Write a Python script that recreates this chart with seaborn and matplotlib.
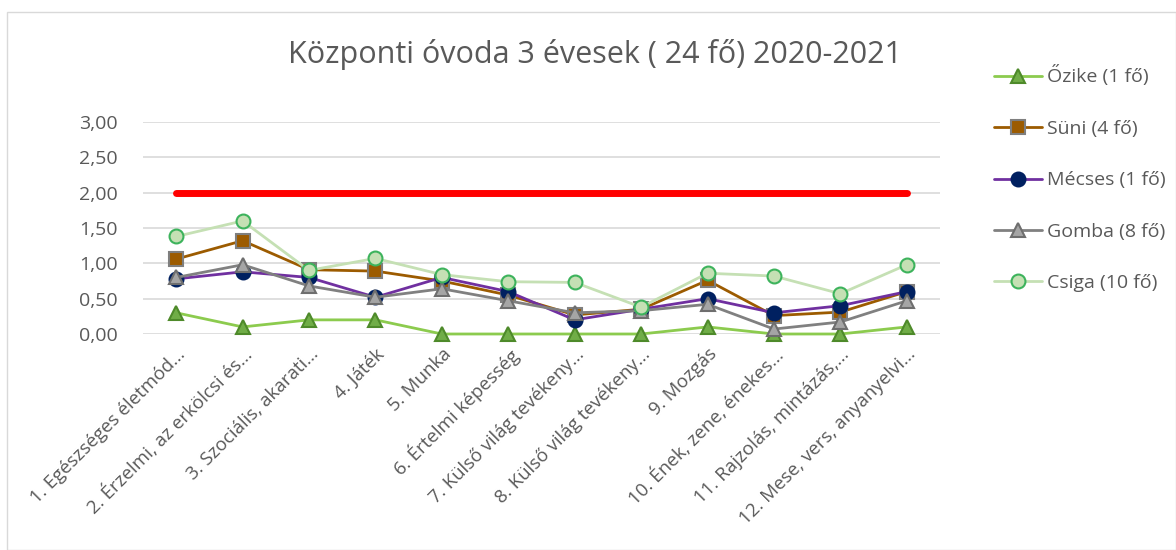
import matplotlib
matplotlib.use("Agg")
import matplotlib.pyplot as plt
import seaborn as sns
import numpy as np
from matplotlib.patches import Rectangle
from matplotlib.ticker import FuncFormatter

# chart data
categories = [
    "1. Egészséges életmód...",
    "2. Érzelmi, az erkölcsi és...",
    "3. Szociális, akarati...",
    "4. Játék",
    "5. Munka",
    "6. Értelmi képesség",
    "7. Külső világ tevékeny...",
    "8. Külső világ tevékeny...",
    "9. Mozgás",
    "10. Ének, zene, énekes...",
    "11. Rajzolás, mintázás,...",
    "12. Mese, vers, anyanyelvi...",
]
ozike = [0.30, 0.10, 0.20, 0.20, 0.00, 0.00, 0.00, 0.00, 0.10, 0.00, 0.00, 0.10]
suni = [1.06, 1.32, 0.91, 0.89, 0.75, 0.55, 0.27, 0.35, 0.76, 0.26, 0.31, 0.60]
mecses = [0.78, 0.88, 0.80, 0.52, 0.80, 0.60, 0.20, 0.35, 0.50, 0.30, 0.40, 0.60]
gomba = [0.80, 0.98, 0.68, 0.52, 0.64, 0.47, 0.30, 0.33, 0.42, 0.07, 0.17, 0.47]
csiga = [1.38, 1.60, 0.90, 1.07, 0.84, 0.74, 0.73, 0.38, 0.86, 0.82, 0.57, 0.98]
target = [2.00] * 12

title = "Központi óvoda 3 évesek ( 24 fő) 2020-2021"

series = [
    ("Őzike (1 fő)", ozike, "#8CCB4E", "^", "#70AD47", "#4E8A2A"),
    ("Süni (4 fő)", suni, "#9C5B00", "s", "#9C5B00", "#7F7F7F"),
    ("Mécses (1 fő)", mecses, "#7030A0", "o", "#002060", "#002060"),
    ("Gomba (8 fő)", gomba, "#808080", "^", "#A5A5A5", "#6E6E6E"),
    ("Csiga (10 fő)", csiga, "#C5E0B4", "o", "#C5E0B4", "#3DB35C"),
]

sns.set_style("white")
plt.rcParams["font.family"] = ["Open Sans", "DejaVu Sans"]

fig = plt.figure(figsize=(11.76, 5.5), dpi=100)
ax = fig.add_axes([143 / 1176, 1 - 334 / 550, (940 - 143) / 1176, (334 - 122) / 550])

x = np.arange(len(categories))

# target line
sns.lineplot(x=x, y=target, ax=ax, color="#FF0000", linewidth=5,
             solid_capstyle="round", legend=False, zorder=2)

handles = []
for name, vals, lc, mk, mfc, mec in series:
    sns.lineplot(x=x, y=vals, ax=ax, color=lc, linewidth=2, marker=mk,
                 markersize=10, markerfacecolor=mfc, markeredgecolor=mec,
                 markeredgewidth=1.5, legend=False, zorder=3, clip_on=False)
    h, = ax.plot([], [], color=lc, linewidth=2, marker=mk, markersize=10,
                 markerfacecolor=mfc, markeredgecolor=mec, markeredgewidth=1.5)
    handles.append((h, name))

ax.set_xlim(-0.5, len(categories) - 0.5)
ax.set_ylim(0, 3)
ax.set_yticks(np.arange(0, 3.01, 0.5))
ax.yaxis.set_major_formatter(FuncFormatter(lambda v, p: f"{v:.2f}".replace(".", ",")))
ax.grid(axis="y", color="#D9D9D9", linewidth=1.2)
ax.set_axisbelow(True)
for s in ax.spines.values():
    s.set_visible(False)
ax.set_xticks(x)
ax.set_xticklabels(categories, rotation=45, ha="right", rotation_mode="anchor",
                   fontsize=13.5, color="#595959")
ax.tick_params(axis="x", length=0, pad=8)
ax.tick_params(axis="y", length=0, pad=18, labelsize=14, labelcolor="#595959")
ax.set_xlabel("")
ax.set_ylabel("")

fig.text(595 / 1176, 1 - 55 / 550, title, ha="center", va="center",
         fontsize=22, color="#595959")

fig.legend([h for h, _ in handles], [n for _, n in handles],
           loc="upper left", bbox_to_anchor=(976 / 1176, 1 - 48 / 550),
           frameon=False, fontsize=14, labelcolor="#595959",
           handlelength=2.5, handletextpad=0.25, labelspacing=1.72)

fig.patches.append(Rectangle((7 / 1176, 0), 1 - 7 / 1176, 1 - 12 / 550,
                             transform=fig.transFigure, fill=False,
                             edgecolor="#D9D9D9", linewidth=1))

fig.savefig("out.png", dpi=100)
